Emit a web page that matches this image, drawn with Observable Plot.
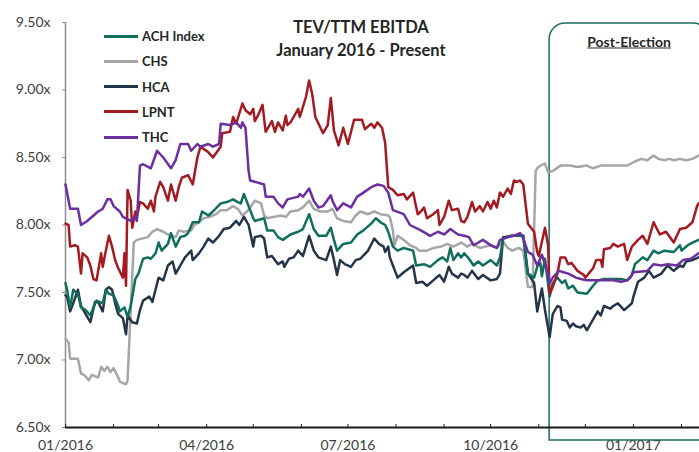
<!DOCTYPE html>
<html>
<head>
<meta charset="utf-8">
<script src="https://cdn.jsdelivr.net/npm/d3@7"></script>
<script src="https://cdn.jsdelivr.net/npm/@observablehq/plot@0.6"></script>
<style>
  body { margin: 0; background: #fff; }
  #wrap { position: relative; width: 699px; height: 452px; overflow: hidden; font-family: Lato, "Open Sans", sans-serif; }
  .ov { position: absolute; white-space: nowrap; color: #262626; font-weight: bold; }
  .title { font-size: 16.5px; transform: translate(-50%, -50%); }
  .leg { position: absolute; display: flex; align-items: center; font-size: 13px; font-weight: bold; color: #262626; transform: translateY(-50%); }
  .leg span.sw { display: inline-block; width: 34px; height: 3px; margin-right: 4px; }
</style>
</head>
<body>
<div id="wrap"></div>
<script>
const seriesNames = ["ACH Index", "CHS", "HCA", "LPNT", "THC"];
const seriesColors = ["#0f6e5c", "#a6a6a6", "#253548", "#a31a20", "#6b2fa0"];
const yTicks = [6.5, 7.0, 7.5, 8.0, 8.5, 9.0, 9.5];
const xStart = "2016-01-01";
const xEnd = "2017-02-12T14:00:00Z";
const electionDate = "2016-11-08";
const boxLabel = "Post-Election";
const titleLines = ["TEV/TTM EBITDA", "January 2016 - Present"];

const ACH = [["2016-01-01",7.57],["2016-01-02",7.52],["2016-01-04",7.39],["2016-01-06",7.52],["2016-01-09",7.49],["2016-01-11",7.39],["2016-01-14",7.37],["2016-01-17",7.33],["2016-01-19",7.39],["2016-01-21",7.44],["2016-01-25",7.42],["2016-01-27",7.52],["2016-01-29",7.49],["2016-02-01",7.48],["2016-02-04",7.40],["2016-02-05",7.36],["2016-02-08",7.39],["2016-02-10",7.32],["2016-02-12",7.40],["2016-02-15",7.60],["2016-02-17",7.64],["2016-02-20",7.75],["2016-02-23",7.76],["2016-02-25",7.75],["2016-02-28",7.79],["2016-03-01",7.87],["2016-03-03",7.81],["2016-03-07",7.86],["2016-03-09",7.94],["2016-03-12",7.84],["2016-03-15",7.91],["2016-03-18",7.92],["2016-03-20",7.94],["2016-03-23",8.02],["2016-03-27",8.02],["2016-03-29",8.10],["2016-04-02",8.07],["2016-04-05",8.10],["2016-04-10",8.16],["2016-04-14",8.17],["2016-04-18",8.19],["2016-04-21",8.17],["2016-04-23",8.16],["2016-04-25",8.23],["2016-04-28",8.14],["2016-05-01",8.05],["2016-05-02",8.03],["2016-05-08",8.05],["2016-05-10",7.96],["2016-05-14",7.96],["2016-05-17",7.91],["2016-05-20",7.89],["2016-05-25",7.93],["2016-05-30",7.95],["2016-06-02",7.97],["2016-06-06",8.08],["2016-06-09",7.97],["2016-06-12",7.92],["2016-06-17",7.92],["2016-06-20",7.98],["2016-06-22",7.89],["2016-06-24",7.81],["2016-06-28",7.86],["2016-07-03",7.87],["2016-07-07",7.93],["2016-07-11",7.96],["2016-07-16",8.01],["2016-07-19",8.05],["2016-07-22",8.02],["2016-07-25",8.00],["2016-07-27",7.95],["2016-07-30",7.84],["2016-08-02",7.81],["2016-08-06",7.83],["2016-08-12",7.81],["2016-08-14",7.70],["2016-08-19",7.71],["2016-08-23",7.69],["2016-08-28",7.74],["2016-08-31",7.76],["2016-09-03",7.73],["2016-09-05",7.83],["2016-09-07",7.74],["2016-09-10",7.79],["2016-09-12",7.76],["2016-09-14",7.79],["2016-09-17",7.75],["2016-09-20",7.70],["2016-09-23",7.73],["2016-09-26",7.70],["2016-10-01",7.74],["2016-10-05",7.70],["2016-10-07",7.76],["2016-10-09",7.90],["2016-10-14",7.92],["2016-10-18",7.92],["2016-10-22",7.92],["2016-10-25",7.64],["2016-10-29",7.61],["2016-10-31",7.69],["2016-11-02",7.72],["2016-11-03",7.62],["2016-11-05",7.75],["2016-11-08",7.47],["2016-11-10",7.57],["2016-11-13",7.61],["2016-11-16",7.57],["2016-11-18",7.59],["2016-11-20",7.53],["2016-11-23",7.55],["2016-11-26",7.50],["2016-12-02",7.49],["2016-12-06",7.55],["2016-12-09",7.59],["2016-12-13",7.60],["2016-12-19",7.60],["2016-12-24",7.60],["2016-12-28",7.59],["2016-12-31",7.63],["2017-01-02",7.71],["2017-01-07",7.76],["2017-01-10",7.74],["2017-01-14",7.81],["2017-01-17",7.79],["2017-01-21",7.81],["2017-01-27",7.80],["2017-01-31",7.85],["2017-02-01",7.81],["2017-02-05",7.85],["2017-02-08",7.87],["2017-02-12",7.89]];

const CHS = [["2016-01-01",7.16],["2016-01-03",7.13],["2016-01-04",7.01],["2016-01-09",7.01],["2016-01-11",6.90],["2016-01-13",6.89],["2016-01-16",6.85],["2016-01-18",6.89],["2016-01-22",6.87],["2016-01-24",6.95],["2016-01-26",6.92],["2016-01-28",6.95],["2016-01-30",6.91],["2016-02-01",6.94],["2016-02-04",6.87],["2016-02-05",6.84],["2016-02-09",6.82],["2016-02-10",6.85],["2016-02-14",7.87],["2016-02-16",7.89],["2016-02-23",7.91],["2016-02-26",7.95],["2016-02-29",7.97],["2016-03-04",7.95],["2016-03-07",7.93],["2016-03-12",7.91],["2016-03-14",7.96],["2016-03-17",7.95],["2016-03-22",7.96],["2016-03-24",8.00],["2016-03-27",8.02],["2016-03-30",8.05],["2016-04-03",8.06],["2016-04-07",8.08],["2016-04-10",8.11],["2016-04-14",8.11],["2016-04-18",8.14],["2016-04-21",8.12],["2016-04-24",8.07],["2016-04-27",8.10],["2016-04-29",8.13],["2016-05-02",8.18],["2016-05-06",8.16],["2016-05-08",8.07],["2016-05-10",8.05],["2016-05-14",8.06],["2016-05-19",8.07],["2016-05-22",8.06],["2016-05-25",8.10],["2016-05-30",8.11],["2016-06-02",8.13],["2016-06-06",8.18],["2016-06-09",8.12],["2016-06-13",8.10],["2016-06-18",8.10],["2016-06-21",8.12],["2016-06-24",8.05],["2016-06-28",8.03],["2016-07-03",8.02],["2016-07-06",8.07],["2016-07-09",8.10],["2016-07-14",8.08],["2016-07-18",8.10],["2016-07-22",8.08],["2016-07-27",8.07],["2016-07-28",8.06],["2016-07-30",7.96],["2016-07-31",7.85],["2016-08-02",7.92],["2016-08-06",7.89],["2016-08-10",7.85],["2016-08-14",7.83],["2016-08-16",7.81],["2016-08-21",7.81],["2016-08-25",7.83],["2016-08-30",7.84],["2016-09-03",7.86],["2016-09-07",7.84],["2016-09-12",7.87],["2016-09-16",7.84],["2016-09-19",7.86],["2016-09-24",7.83],["2016-10-01",7.85],["2016-10-05",7.83],["2016-10-09",7.88],["2016-10-12",7.83],["2016-10-15",7.81],["2016-10-19",7.83],["2016-10-22",7.81],["2016-10-25",7.54],["2016-10-28",7.54],["2016-10-30",8.40],["2016-10-31",8.42],["2016-11-02",8.44],["2016-11-05",8.455],["2016-11-07",8.39],["2016-11-10",8.40],["2016-11-15",8.44],["2016-11-21",8.44],["2016-11-26",8.43],["2016-12-02",8.44],["2016-12-06",8.42],["2016-12-11",8.44],["2016-12-19",8.44],["2016-12-28",8.44],["2017-01-01",8.465],["2017-01-06",8.49],["2017-01-10",8.48],["2017-01-14",8.515],["2017-01-17",8.49],["2017-01-21",8.48],["2017-01-24",8.49],["2017-01-27",8.48],["2017-01-31",8.49],["2017-02-04",8.48],["2017-02-08",8.49],["2017-02-12",8.515]];

const HCA = [["2016-01-01",7.48],["2016-01-02",7.47],["2016-01-04",7.36],["2016-01-06",7.42],["2016-01-09",7.52],["2016-01-11",7.40],["2016-01-14",7.34],["2016-01-17",7.28],["2016-01-20",7.43],["2016-01-22",7.43],["2016-01-25",7.36],["2016-01-27",7.52],["2016-01-29",7.54],["2016-01-31",7.52],["2016-02-02",7.42],["2016-02-04",7.34],["2016-02-07",7.31],["2016-02-09",7.19],["2016-02-10",7.33],["2016-02-13",7.28],["2016-02-16",7.27],["2016-02-18",7.37],["2016-02-20",7.44],["2016-02-24",7.47],["2016-02-26",7.43],["2016-02-28",7.52],["2016-03-01",7.61],["2016-03-04",7.59],["2016-03-07",7.70],["2016-03-10",7.73],["2016-03-12",7.64],["2016-03-15",7.70],["2016-03-18",7.76],["2016-03-22",7.81],["2016-03-23",7.74],["2016-03-27",7.79],["2016-03-30",7.84],["2016-04-02",7.90],["2016-04-05",7.87],["2016-04-09",7.92],["2016-04-12",7.97],["2016-04-16",7.98],["2016-04-20",8.03],["2016-04-22",8.00],["2016-04-25",8.06],["2016-04-28",8.00],["2016-05-01",7.84],["2016-05-02",7.91],["2016-05-06",7.92],["2016-05-08",7.90],["2016-05-10",7.76],["2016-05-13",7.77],["2016-05-17",7.71],["2016-05-20",7.73],["2016-05-21",7.69],["2016-05-24",7.75],["2016-05-27",7.76],["2016-05-30",7.81],["2016-06-02",7.77],["2016-06-06",7.92],["2016-06-09",7.81],["2016-06-12",7.76],["2016-06-17",7.74],["2016-06-20",7.84],["2016-06-22",7.74],["2016-06-24",7.63],["2016-06-26",7.74],["2016-06-29",7.71],["2016-07-03",7.69],["2016-07-06",7.74],["2016-07-09",7.75],["2016-07-14",7.81],["2016-07-18",7.90],["2016-07-21",7.86],["2016-07-24",7.84],["2016-07-25",7.80],["2016-07-27",7.84],["2016-07-28",7.76],["2016-07-30",7.70],["2016-08-02",7.61],["2016-08-06",7.65],["2016-08-12",7.70],["2016-08-14",7.57],["2016-08-18",7.58],["2016-08-21",7.55],["2016-08-25",7.59],["2016-08-29",7.63],["2016-09-01",7.58],["2016-09-04",7.69],["2016-09-06",7.64],["2016-09-10",7.61],["2016-09-12",7.64],["2016-09-14",7.63],["2016-09-16",7.61],["2016-09-19",7.66],["2016-09-23",7.60],["2016-09-26",7.63],["2016-10-01",7.59],["2016-10-05",7.60],["2016-10-07",7.64],["2016-10-09",7.91],["2016-10-15",7.92],["2016-10-22",7.92],["2016-10-25",7.64],["2016-10-29",7.57],["2016-10-31",7.36],["2016-11-03",7.53],["2016-11-05",7.37],["2016-11-08",7.17],["2016-11-10",7.34],["2016-11-13",7.40],["2016-11-15",7.39],["2016-11-16",7.30],["2016-11-19",7.29],["2016-11-21",7.24],["2016-11-23",7.27],["2016-11-25",7.25],["2016-11-28",7.24],["2016-11-30",7.26],["2016-12-02",7.22],["2016-12-06",7.30],["2016-12-09",7.36],["2016-12-11",7.33],["2016-12-13",7.40],["2016-12-17",7.38],["2016-12-19",7.40],["2016-12-22",7.42],["2016-12-26",7.37],["2016-12-28",7.39],["2016-12-31",7.42],["2017-01-01",7.47],["2017-01-04",7.58],["2017-01-08",7.61],["2017-01-11",7.66],["2017-01-14",7.61],["2017-01-19",7.64],["2017-01-23",7.70],["2017-01-27",7.66],["2017-01-31",7.70],["2017-02-02",7.69],["2017-02-04",7.73],["2017-02-08",7.74],["2017-02-12",7.76]];

const LPNT = [["2016-01-01",8.01],["2016-01-03",8.00],["2016-01-04",7.84],["2016-01-07",7.85],["2016-01-09",7.84],["2016-01-11",7.64],["2016-01-12",7.79],["2016-01-15",7.76],["2016-01-17",7.70],["2016-01-19",7.60],["2016-01-21",7.59],["2016-01-24",7.79],["2016-01-25",7.69],["2016-01-27",7.81],["2016-01-29",7.92],["2016-01-31",7.84],["2016-02-02",7.74],["2016-02-04",7.68],["2016-02-07",7.61],["2016-02-08",7.79],["2016-02-09",7.55],["2016-02-10",8.26],["2016-02-12",8.18],["2016-02-13",7.98],["2016-02-15",8.10],["2016-02-16",8.06],["2016-02-18",8.17],["2016-02-20",8.16],["2016-02-23",8.12],["2016-02-25",8.18],["2016-02-27",8.10],["2016-02-28",8.21],["2016-03-02",8.32],["2016-03-04",8.28],["2016-03-07",8.18],["2016-03-09",8.30],["2016-03-12",8.18],["2016-03-14",8.28],["2016-03-16",8.35],["2016-03-20",8.37],["2016-03-23",8.30],["2016-03-26",8.50],["2016-03-28",8.58],["2016-04-02",8.54],["2016-04-05",8.50],["2016-04-10",8.58],["2016-04-11",8.68],["2016-04-16",8.69],["2016-04-18",8.80],["2016-04-20",8.75],["2016-04-24",8.90],["2016-04-26",8.85],["2016-04-29",8.82],["2016-05-01",8.86],["2016-05-02",8.77],["2016-05-04",8.81],["2016-05-07",8.89],["2016-05-09",8.69],["2016-05-13",8.77],["2016-05-15",8.69],["2016-05-17",8.76],["2016-05-20",8.70],["2016-05-22",8.81],["2016-05-23",8.74],["2016-05-25",8.76],["2016-05-30",8.86],["2016-05-31",8.80],["2016-06-04",8.95],["2016-06-06",9.07],["2016-06-08",8.97],["2016-06-10",8.80],["2016-06-15",8.68],["2016-06-18",8.74],["2016-06-20",8.94],["2016-06-22",8.70],["2016-06-25",8.59],["2016-06-28",8.72],["2016-07-01",8.60],["2016-07-05",8.78],["2016-07-10",8.78],["2016-07-12",8.71],["2016-07-16",8.75],["2016-07-18",8.72],["2016-07-20",8.76],["2016-07-23",8.72],["2016-07-25",8.61],["2016-07-27",8.28],["2016-07-30",8.26],["2016-08-02",8.22],["2016-08-06",8.23],["2016-08-08",8.19],["2016-08-12",8.24],["2016-08-15",8.08],["2016-08-17",8.10],["2016-08-19",8.13],["2016-08-21",8.05],["2016-08-25",8.08],["2016-08-28",8.11],["2016-08-29",8.00],["2016-09-01",8.06],["2016-09-04",8.18],["2016-09-06",8.11],["2016-09-10",8.12],["2016-09-12",8.03],["2016-09-14",8.02],["2016-09-16",8.06],["2016-09-19",8.17],["2016-09-21",8.10],["2016-09-24",8.14],["2016-09-26",8.10],["2016-09-29",8.17],["2016-10-01",8.12],["2016-10-03",8.18],["2016-10-05",8.13],["2016-10-07",8.24],["2016-10-09",8.21],["2016-10-12",8.27],["2016-10-14",8.23],["2016-10-16",8.33],["2016-10-18",8.32],["2016-10-20",8.33],["2016-10-22",8.30],["2016-10-25",8.01],["2016-10-29",7.95],["2016-10-31",7.80],["2016-11-01",7.77],["2016-11-05",7.98],["2016-11-07",7.85],["2016-11-08",7.49],["2016-11-10",7.54],["2016-11-13",7.64],["2016-11-15",7.76],["2016-11-18",7.76],["2016-11-20",7.71],["2016-11-22",7.72],["2016-11-26",7.66],["2016-11-30",7.63],["2016-12-01",7.61],["2016-12-06",7.68],["2016-12-08",7.74],["2016-12-11",7.74],["2016-12-12",7.69],["2016-12-13",7.82],["2016-12-17",7.83],["2016-12-19",7.86],["2016-12-22",7.84],["2016-12-26",7.86],["2016-12-28",7.74],["2016-12-31",7.84],["2017-01-04",7.89],["2017-01-07",7.92],["2017-01-10",7.86],["2017-01-14",8.02],["2017-01-18",7.93],["2017-01-22",7.95],["2017-01-27",7.87],["2017-01-31",7.97],["2017-02-04",7.98],["2017-02-08",8.02],["2017-02-11",8.14],["2017-02-12",8.16]];

const THC = [["2016-01-01",8.30],["2016-01-04",8.12],["2016-01-09",8.12],["2016-01-11",8.00],["2016-01-15",8.03],["2016-01-22",8.10],["2016-01-25",8.12],["2016-01-28",8.19],["2016-01-30",8.19],["2016-02-01",8.14],["2016-02-05",8.10],["2016-02-07",8.06],["2016-02-12",8.03],["2016-02-15",8.06],["2016-02-16",8.03],["2016-02-18",8.44],["2016-02-20",8.45],["2016-02-25",8.42],["2016-02-29",8.55],["2016-03-04",8.50],["2016-03-09",8.42],["2016-03-12",8.48],["2016-03-15",8.60],["2016-03-20",8.60],["2016-03-22",8.55],["2016-03-26",8.60],["2016-03-28",8.58],["2016-04-02",8.60],["2016-04-05",8.58],["2016-04-09",8.60],["2016-04-10",8.75],["2016-04-16",8.74],["2016-04-20",8.76],["2016-04-23",8.72],["2016-04-24",8.76],["2016-04-26",8.72],["2016-04-28",8.40],["2016-04-29",8.33],["2016-05-08",8.30],["2016-05-09",8.21],["2016-05-14",8.21],["2016-05-17",8.16],["2016-05-20",8.13],["2016-05-23",8.19],["2016-05-30",8.21],["2016-05-31",8.23],["2016-06-02",8.21],["2016-06-06",8.27],["2016-06-09",8.18],["2016-06-12",8.13],["2016-06-15",8.14],["2016-06-20",8.22],["2016-06-21",8.18],["2016-06-24",8.11],["2016-06-28",8.16],["2016-07-03",8.13],["2016-07-07",8.21],["2016-07-11",8.24],["2016-07-16",8.28],["2016-07-20",8.30],["2016-07-24",8.29],["2016-07-27",8.24],["2016-07-30",8.11],["2016-08-06",8.08],["2016-08-10",8.00],["2016-08-17",7.96],["2016-08-23",7.92],["2016-08-28",7.95],["2016-09-01",7.93],["2016-09-05",7.97],["2016-09-10",7.93],["2016-09-14",7.92],["2016-09-17",7.91],["2016-09-20",7.85],["2016-09-26",7.89],["2016-10-01",7.85],["2016-10-05",7.83],["2016-10-07",7.89],["2016-10-12",7.91],["2016-10-16",7.92],["2016-10-20",7.94],["2016-10-22",7.90],["2016-10-25",7.80],["2016-10-28",7.78],["2016-10-31",7.70],["2016-11-03",7.78],["2016-11-07",7.64],["2016-11-08",7.57],["2016-11-10",7.61],["2016-11-14",7.66],["2016-11-17",7.65],["2016-11-20",7.64],["2016-11-25",7.61],["2016-11-28",7.60],["2016-12-02",7.59],["2016-12-13",7.59],["2016-12-19",7.59],["2016-12-24",7.58],["2016-12-28",7.59],["2016-12-30",7.61],["2017-01-01",7.65],["2017-01-10",7.66],["2017-01-14",7.71],["2017-01-19",7.70],["2017-01-23",7.71],["2017-01-29",7.70],["2017-02-02",7.74],["2017-02-07",7.75],["2017-02-12",7.79]];

const seriesPoints = [ACH, CHS, HCA, LPNT, THC];

// ---- build table ----
const data = seriesNames.flatMap((name, i) =>
  seriesPoints[i].map(([d, v]) => ({ name, date: new Date(d), value: v }))
);
const xDomain = [new Date(xStart), new Date(xEnd)];
const election = new Date(electionDate);
const monthTicks = d3.utcMonth.range(xDomain[0], xDomain[1]);
const quarterTicks = d3.utcMonth.every(3).range(xDomain[0], xDomain[1]);
const drawOrder = ["CHS", "HCA", "ACH Index", "LPNT", "THC"];

const chart = Plot.plot({
  width: 699,
  height: 452,
  marginLeft: 65,
  marginRight: 0,
  marginTop: 22,
  marginBottom: 25,
  style: { fontFamily: "Lato, 'Open Sans', sans-serif", fontSize: "14px", color: "#404040", background: "#fff" },
  x: { type: "utc", domain: xDomain },
  y: { domain: [yTicks[0], yTicks[yTicks.length - 1]] },
  color: { domain: seriesNames, range: seriesColors },
  marks: [
    Plot.ruleX([xDomain[0]], { stroke: "#8c8c8c", strokeWidth: 1.5 }),
    Plot.axisY({ ticks: yTicks, tickSize: 3, tickPadding: 12, tickFormat: d => d.toFixed(2) + "x", stroke: "#8c8c8c", fill: "#404040", label: null }),
    Plot.axisX({ ticks: monthTicks, tickSize: 3, dy: -3, tickFormat: () => "", stroke: "#222", label: null }),
    Plot.axisX({ ticks: quarterTicks, tickSize: 0, tickPadding: 13, tickFormat: d3.utcFormat("%m/%Y"), fill: "#404040", label: null }),
    Plot.rect([election], {
      x1: d => d, x2: () => xDomain[1],
      y1: () => yTicks[0], y2: () => yTicks[yTicks.length - 1],
      rx: 16, insetTop: 1, insetBottom: -13, insetRight: -10,
      fill: "none", stroke: "#1d6b61", strokeWidth: 1.5
    }),
    ...drawOrder.map(n => Plot.line(data.filter(d => d.name === n), { x: "date", y: "value", stroke: "name", strokeWidth: 2.5, strokeLinejoin: "round" })),
    Plot.ruleY([yTicks[0]], { stroke: "#1a1a1a", strokeWidth: 2 })
  ]
});

// turn the box into a shape with rounded top corners and square bottom corners
d3.select(chart).selectAll('g[aria-label="rect"] rect').each(function () {
  const r = d3.select(this);
  const x = +r.attr("x"), y = +r.attr("y"), w = +r.attr("width"), h = +r.attr("height");
  const k = +r.attr("rx") || 16;
  const p = `M${x},${y + h}V${y + k}A${k},${k} 0 0 1 ${x + k},${y}H${x + w - k}A${k},${k} 0 0 1 ${x + w},${y + k}V${y + h}Z`;
  d3.select(this.parentNode).append("path").attr("d", p).attr("fill", "none").attr("stroke", "#1d6b61").attr("stroke-width", 1.5);
  r.remove();
});

const wrap = document.getElementById("wrap");
wrap.appendChild(chart);

// Title
titleLines.forEach((t, i) => {
  const el = document.createElement("div");
  el.className = "ov title";
  el.textContent = t;
  el.style.left = "361px";
  el.style.top = (27 + i * 23) + "px";
  wrap.appendChild(el);
});

// Post-Election label (centered within the box)
const xs = d3.scaleUtc().domain(xDomain).range([65, 699]);
const lab = document.createElement("div");
lab.className = "ov";
lab.textContent = boxLabel;
lab.style.fontSize = "14px";
lab.style.textDecoration = "underline";
lab.style.left = ((xs(election) + 709) / 2) + "px";
lab.style.top = "41px";
lab.style.transform = "translate(-50%, -50%)";
wrap.appendChild(lab);

// Legend
seriesNames.forEach((n, i) => {
  const row = document.createElement("div");
  row.className = "leg";
  row.style.left = "104px";
  row.style.top = (36 + i * 25.3) + "px";
  const sw = document.createElement("span");
  sw.className = "sw";
  sw.style.background = seriesColors[i];
  const tx = document.createElement("span");
  tx.textContent = n;
  row.appendChild(sw);
  row.appendChild(tx);
  wrap.appendChild(row);
});
</script>
</body>
</html>
